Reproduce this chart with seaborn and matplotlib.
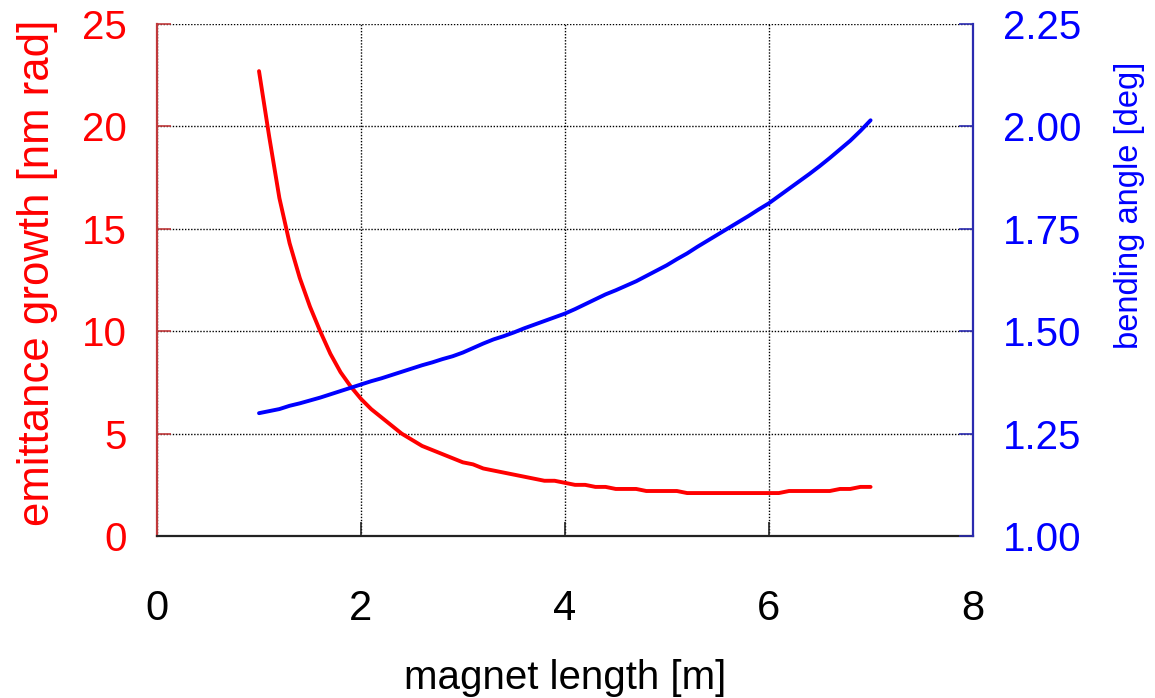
import numpy as np
import pandas as pd
import matplotlib
matplotlib.use("Agg")
import matplotlib.pyplot as plt
import seaborn as sns

# ---- data ----
magnet_length = [1.0, 1.1, 1.2, 1.3, 1.4, 1.5, 1.6, 1.7, 1.8, 1.9,
                 2.0, 2.1, 2.2, 2.3, 2.4, 2.5, 2.6, 2.7, 2.8, 2.9,
                 3.0, 3.1, 3.2, 3.3, 3.4, 3.5, 3.6, 3.7, 3.8, 3.9,
                 4.0, 4.1, 4.2, 4.3, 4.4, 4.5, 4.6, 4.7, 4.8, 4.9,
                 5.0, 5.1, 5.2, 5.3, 5.4, 5.5, 5.6, 5.7, 5.8, 5.9,
                 6.0, 6.1, 6.2, 6.3, 6.4, 6.5, 6.6, 6.7, 6.8, 6.9, 7.0]
emittance_growth = [22.7, 19.5, 16.5, 14.3, 12.6, 11.2, 10.0, 8.9, 8.0, 7.3,
                    6.7, 6.2, 5.8, 5.4, 5.0, 4.7, 4.4, 4.2, 4.0, 3.8,
                    3.6, 3.5, 3.3, 3.2, 3.1, 3.0, 2.9, 2.8, 2.7, 2.7,
                    2.6, 2.5, 2.5, 2.4, 2.4, 2.3, 2.3, 2.3, 2.2, 2.2,
                    2.2, 2.2, 2.1, 2.1, 2.1, 2.1, 2.1, 2.1, 2.1, 2.1,
                    2.1, 2.1, 2.2, 2.2, 2.2, 2.2, 2.2, 2.3, 2.3, 2.4, 2.4]
bending_angle = [1.300, 1.305, 1.310, 1.318, 1.324, 1.331, 1.338, 1.346, 1.354, 1.362,
                 1.370, 1.378, 1.385, 1.393, 1.401, 1.409, 1.417, 1.424, 1.432, 1.439,
                 1.448, 1.459, 1.470, 1.480, 1.488, 1.497, 1.507, 1.516, 1.525, 1.534,
                 1.543, 1.554, 1.566, 1.578, 1.590, 1.600, 1.611, 1.622, 1.635, 1.648,
                 1.661, 1.676, 1.690, 1.706, 1.721, 1.736, 1.751, 1.766, 1.781, 1.797,
                 1.812, 1.830, 1.848, 1.866, 1.884, 1.903, 1.923, 1.944, 1.965, 1.989, 2.015]
x_ticks = [0, 2, 4, 6, 8]
left_ticks = [0, 5, 10, 15, 20, 25]
right_ticks = [1.00, 1.25, 1.50, 1.75, 2.00, 2.25]
right_tick_labels = ["1.00", "1.25", "1.50", "1.75", "2.00", "2.25"]

df = pd.DataFrame({"L": magnet_length, "emit": emittance_growth, "angle": bending_angle})

sns.set_style("white")
plt.rcParams["font.family"] = ["Liberation Sans", "DejaVu Sans"]

fig = plt.figure(figsize=(11.55, 6.98), dpi=100)
ax = fig.add_axes([0.136, 0.232, 0.706, 0.7336])
ax2 = ax.twinx()

sns.lineplot(data=df, x="L", y="emit", ax=ax, color="#ff0000", linewidth=2.8)
sns.lineplot(data=df, x="L", y="angle", ax=ax2, color="#0000ff", linewidth=2.8)

ax.set_xlim(0, 8)
ax.set_ylim(0, 25)
ax2.set_ylim(1.0, 2.25)
ax.set_xticks(x_ticks)
ax.set_yticks(left_ticks)
ax2.set_yticks(right_ticks)
ax2.set_yticklabels(right_tick_labels)

ax.grid(True, which="major", axis="both", color="black", linestyle=(0, (1, 1.2)), linewidth=1.0)
ax2.grid(False)
ax.set_axisbelow(True)

for a in (ax, ax2):
    a.spines["top"].set_visible(False)
ax.spines["right"].set_visible(False)
ax2.spines["left"].set_visible(False)
ax2.spines["bottom"].set_visible(False)
ax.spines["left"].set_color("#c0393b")
ax.spines["left"].set_linewidth(1.6)
ax.spines["bottom"].set_color("#222222")
ax.spines["bottom"].set_linewidth(1.6)
ax2.spines["right"].set_color("#2b2bb0")
ax2.spines["right"].set_linewidth(1.6)

ax.tick_params(axis="x", direction="in", length=10, width=1.2, colors="#222222",
               labelcolor="black", labelsize=30, pad=38, bottom=True)
ax.tick_params(axis="y", direction="in", length=10, width=1.2, colors="#c0393b",
               labelcolor="#ff0000", labelsize=29, pad=22, left=True)
ax2.tick_params(axis="y", direction="in", length=10, width=1.2, colors="#2b2bb0",
                labelcolor="#0000ff", labelsize=29, pad=22, right=True)

ax.set_xlabel("magnet length [m]", fontsize=29, color="black", labelpad=22)
ax.set_ylabel("emittance growth [nm rad]", fontsize=31.5, color="#ff0000")
ax.yaxis.set_label_coords(-0.121, 0.515)
ax2.set_ylabel("bending angle [deg]", fontsize=23.5, color="#0000ff")
ax2.yaxis.set_label_coords(1.173, 0.645)

fig.savefig("out.png", dpi=100, facecolor="white")
